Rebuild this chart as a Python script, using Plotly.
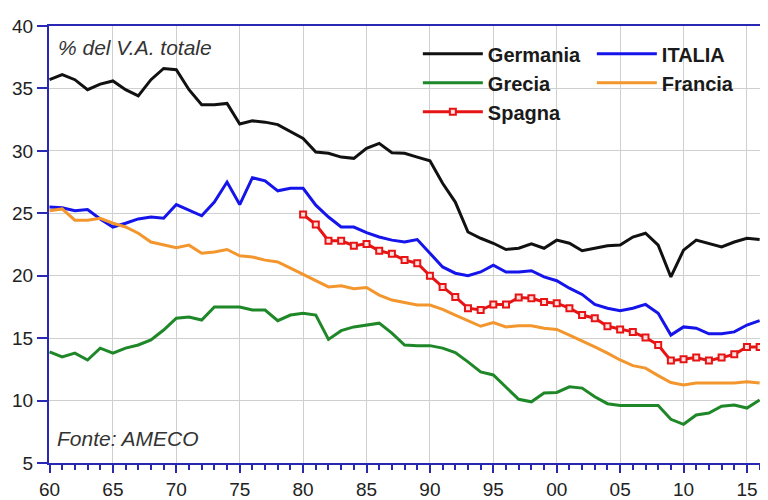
import plotly.graph_objects as go

years = list(range(1960, 2017))
years_es = list(range(1980, 2017))

germania = [35.7, 36.1, 35.7, 34.9, 35.35, 35.6, 34.9, 34.4, 35.7, 36.6,
            36.5, 34.9, 33.7, 33.7, 33.8, 32.15, 32.4, 32.3, 32.1, 31.55,
            31.0, 29.9, 29.8, 29.5, 29.4, 30.2, 30.6, 29.85, 29.8, 29.5,
            29.2, 27.4, 25.9, 23.5, 23.0, 22.6, 22.1, 22.2, 22.55, 22.2,
            22.85, 22.6, 22.0, 22.2, 22.4, 22.45, 23.1, 23.4, 22.45, 19.9,
            22.05, 22.85, 22.6, 22.3, 22.7, 23.0, 22.9]
italia = [25.5, 25.45, 25.2, 25.3, 24.55, 23.9, 24.2, 24.55, 24.7, 24.6,
          25.7, 25.25, 24.8, 25.9, 27.5, 25.7, 27.85, 27.6, 26.8, 27.0,
          27.0, 25.65, 24.7, 23.9, 23.9, 23.45, 23.1, 22.85, 22.7, 22.9,
          21.8, 20.7, 20.2, 20.0, 20.3, 20.85, 20.3, 20.3, 20.4, 19.9,
          19.6, 19.0, 18.5, 17.7, 17.4, 17.2, 17.4, 17.7, 17.0, 15.25,
          15.9, 15.8, 15.35, 15.35, 15.5, 16.05, 16.4]
grecia = [13.9, 13.5, 13.8, 13.25, 14.2, 13.8, 14.2, 14.45, 14.85, 15.65,
          16.6, 16.7, 16.45, 17.5, 17.5, 17.5, 17.25, 17.25, 16.4, 16.85,
          17.0, 16.85, 14.9, 15.6, 15.9, 16.05, 16.2, 15.4, 14.45, 14.4,
          14.4, 14.2, 13.85, 13.1, 12.3, 12.05, 11.1, 10.1, 9.9, 10.6,
          10.65, 11.1, 11.0, 10.3, 9.75, 9.6, 9.6, 9.6, 9.6, 8.5,
          8.1, 8.85, 9.0, 9.55, 9.65, 9.4, 10.05]
francia = [25.2, 25.35, 24.45, 24.45, 24.6, 24.2, 23.9, 23.4, 22.7, 22.5,
           22.25, 22.45, 21.8, 21.9, 22.1, 21.6, 21.5, 21.25, 21.1, 20.6,
           20.1, 19.55, 19.1, 19.2, 18.95, 19.05, 18.45, 18.05, 17.85, 17.65,
           17.65, 17.3, 16.85, 16.4, 15.95, 16.25, 15.9, 16.0, 16.0, 15.8,
           15.7, 15.25, 14.8, 14.3, 13.8, 13.25, 12.8, 12.6, 12.0, 11.45,
           11.25, 11.4, 11.4, 11.4, 11.4, 11.5, 11.4]
spagna = [24.9, 24.1, 22.8, 22.8, 22.4, 22.55, 22.0, 21.75, 21.25, 21.0,
          20.0, 19.1, 18.3, 17.4, 17.25, 17.7, 17.7, 18.25, 18.2, 17.9,
          17.8, 17.4, 16.85, 16.6, 15.95, 15.7, 15.5, 15.05, 14.45, 13.2,
          13.3, 13.45, 13.2, 13.45, 13.7, 14.3, 14.3]

tick_years = list(range(1960, 2016, 5))
tick_labels = ['60', '65', '70', '75', '80', '85', '90', '95', '00', '05', '10', '15']

axis_blue = 'rgb(40,40,180)'
font_fam = 'Liberation Sans, Arial, sans-serif'

fig = go.Figure()

fig.add_trace(go.Scatter(x=years, y=germania, name='Germania', mode='lines',
                         line=dict(color='#111111', width=3), legend='legend'))
fig.add_trace(go.Scatter(x=years, y=grecia, name='Grecia', mode='lines',
                         line=dict(color='rgb(30,135,40)', width=3), legend='legend'))
fig.add_trace(go.Scatter(x=years_es, y=spagna, name='Spagna', mode='lines+markers',
                         line=dict(color='rgb(230,20,20)', width=3),
                         marker=dict(symbol='square', size=6, color='#fbe0e0',
                                     line=dict(color='rgb(230,20,20)', width=2)),
                         legend='legend'))
fig.add_trace(go.Scatter(x=years, y=italia, name='ITALIA', mode='lines',
                         line=dict(color='rgb(20,20,235)', width=3), legend='legend2'))
fig.add_trace(go.Scatter(x=years, y=francia, name='Francia', mode='lines',
                         line=dict(color='rgb(242,150,45)', width=3), legend='legend2'))

legend_style = dict(
    bgcolor='rgba(0,0,0,0)',
    font=dict(family=font_fam, size=20, color='#1a1a1a', weight='bold'),
    itemwidth=60,
    tracegroupgap=0,
    yanchor='top', xanchor='left',
)

# page body has an 8px margin, so the figure is drawn 8px smaller
fig.update_layout(
    width=760, height=492,
    margin=dict(l=41, r=0, t=18, b=37, autoexpand=False),
    plot_bgcolor='white', paper_bgcolor='white',
    font=dict(family=font_fam, size=19, color='#222222'),
    showlegend=True,
    legend=dict(x=0.513, y=0.981, **legend_style),
    legend2=dict(x=0.755, y=0.981, **legend_style),
    xaxis=dict(
        range=[1959.96, 2016.66], automargin=False,
        tickvals=tick_years, ticktext=tick_labels,
        showline=True, linecolor=axis_blue, linewidth=2, mirror=True,
        ticks='outside', ticklen=8, tickwidth=2, tickcolor=axis_blue,
        minor=dict(dtick=1, ticks='outside', ticklen=5, tickwidth=2,
                   tickcolor=axis_blue, showgrid=False),
        showgrid=True, gridcolor='#cfcfcf', gridwidth=1,
        zeroline=False,
    ),
    yaxis=dict(
        range=[5, 40], dtick=5, automargin=False,
        showline=True, linecolor=axis_blue, linewidth=2,
        ticks='outside', ticklen=10, tickwidth=2, tickcolor=axis_blue,
        showgrid=True, gridcolor='#cfcfcf', gridwidth=1,
        zeroline=False,
    ),
)

annotations = []
annotations.append(dict(xref='paper', yref='paper', x=0.01, y=0.95,
                        xanchor='left', yanchor='middle',
                        text='<i>% del V.A. totale</i>',
                        font=dict(family=font_fam, size=21, color='#333333'),
                        showarrow=False))
annotations.append(dict(xref='paper', yref='paper', x=0.008, y=0.057,
                        xanchor='left', yanchor='middle',
                        text='<i>Fonte: AMECO</i>',
                        font=dict(family=font_fam, size=21, color='#333333'),
                        showarrow=False))
fig.update_layout(annotations=annotations)

fig.write_html("out.html")
